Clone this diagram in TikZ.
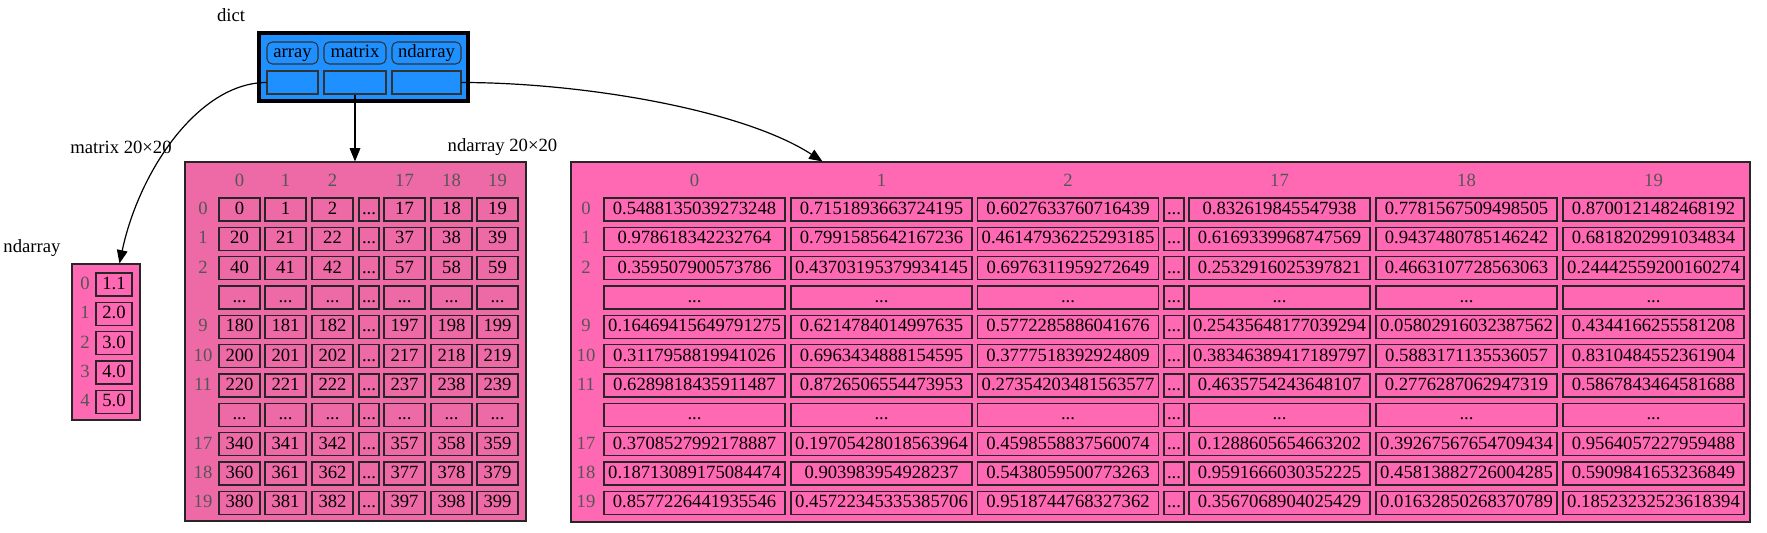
\documentclass[tikz,border=0pt]{standalone}
\usepackage{fontspec}
\setmainfont{Liberation Serif}
\usetikzlibrary{arrows.meta,calc}
\definecolor{dictblue}{HTML}{1E90FF}
\definecolor{matpink}{HTML}{EE6AA7}
\definecolor{arrpink}{HTML}{FF69B4}
\definecolor{idxgrey}{HTML}{555555}
\tikzset{
  fig/.style={font=\fontsize{14}{16}\selectfont},
  lbl/.style={inner sep=0pt},
  idx/.style={inner sep=0pt,text=idxgrey,text height=9.5pt,text depth=2pt},
  dictbox/.style={draw,line width=3pt,fill=dictblue,minimum width=156.75pt,
                  minimum height=51pt,inner sep=0pt},
  keybox/.style={draw=black!80,line width=0.8pt,fill=dictblue,rounded corners=4pt,
                 minimum height=16.5pt,inner sep=0pt,text height=6.5pt,text depth=0pt},
  valbox/.style={draw=black!80,line width=0.8pt,fill=dictblue,
                 minimum height=17.25pt,inner sep=0pt},
  panel/.style={draw=black!85,line width=0.8pt,inner sep=0pt},
  cellbox/.style={draw=black!85,line width=0.9pt,minimum height=17.25pt,inner sep=0pt,
                  text height=9.5pt,text depth=2pt},
  vcell/.style={cellbox,minimum width=27pt},
  mcell/.style={cellbox,minimum width=30.75pt},
  ncell/.style={cellbox,minimum width=135.75pt},
  dcell/.style={cellbox,minimum width=15pt},
  ln/.style={-{Triangle[length=10pt,width=8pt]},line width=0.9pt},
}

\begin{document}
\begin{tikzpicture}[fig,x=0.75pt,y=-0.75pt]
\useasboundingbox (0,0) rectangle (1767,532);

% dict
\node[lbl] (dictlbl) at (231,15) {dict};
\node[dictbox] (dict) at (363.5,67) {};
\node[keybox,minimum width=38.25pt] (arrk) at (292.5,53) {array};
\node[keybox,minimum width=46.5pt] (matk) at (355,53) {matrix};
\node[keybox,minimum width=51.75pt] (ndk) at (426.5,53) {ndarray};
\node[valbox,minimum width=38.25pt] (arrv) at (292.5,82.5) {};
\node[valbox,minimum width=46.5pt] (matv) at (355,82.5) {};
\node[valbox,minimum width=51.75pt] (ndv) at (426.5,82.5) {};

% ndarray (1-d)
\node[lbl] (veclbl) at (32,248) {ndarray};
\node[panel,fill=arrpink,minimum width=51pt,minimum height=117pt] (vec) at (106,342) {};
\foreach \i/\v in {0/1.1,1/2.0,2/3.0,3/4.0,4/5.0}{
  \node[idx] (vec-i\i) at (85,284.5+29.33*\i) {\i};
  \node[vcell] (vec-\i) at (114,284.5+29.33*\i) {\v};
}

% matrix 20x20
\node[lbl] (matlbl) at (121,147) {matrix 20×20};
\node[panel,fill=matpink,minimum width=255.75pt,minimum height=269.25pt] (mat) at (355.5,341.5) {};
\foreach \k/\x in {0/239.5,1/285.5,2/332.5,17/404.5,18/451.5,19/497.5}
  \node[idx] (mat-h\k) at (\x,181) {\k};
\foreach \r/\ri in {0/0,1/1,2/2,9/4,10/5,11/6,17/8,18/9,19/10}{
  \node[idx] (mat-i\r) at (203,209.5+29.33*\ri) {\r};
  \foreach \k/\x in {0/239.5,1/285.5,2/332.5,17/404.5,18/451.5,19/497.5}{
    \pgfmathtruncatemacro\v{20*\r+\k}
    \node[mcell] (mat-\r-\k) at (\x,209.5+29.33*\ri) {\v};
  }
  \node[dcell] (mat-\r-d) at (369,209.5+29.33*\ri) {...};
}
\foreach \ri in {3,7}{
  \foreach \k/\x in {0/239.5,1/285.5,2/332.5,17/404.5,18/451.5,19/497.5}
    \node[mcell] (mat-s\ri-\k) at (\x,209.5+29.33*\ri) {...};
  \node[dcell] (mat-s\ri-d) at (369,209.5+29.33*\ri) {...};
}

% ndarray 20x20
\node[lbl] (ndlbl) at (502.5,147) {ndarray 20×20};
\node[panel,fill=arrpink,minimum width=884.25pt,minimum height=270pt] (nd) at (1160.5,342) {};
\foreach \k/\x in {0/694.5,1/881.5,2/1068,17/1279.5,18/1466.5,19/1653.5}
  \node[idx] (nd-h\k) at (\x,181) {\k};
\foreach \r/\ri/\va/\vb/\vc/\vd/\ve/\vf in {
  0/0/0.5488135039273248/0.7151893663724195/0.6027633760716439/0.832619845547938/0.7781567509498505/0.8700121482468192,
  1/1/0.978618342232764/0.7991585642167236/0.46147936225293185/0.6169339968747569/0.9437480785146242/0.6818202991034834,
  2/2/0.359507900573786/0.43703195379934145/0.6976311959272649/0.2532916025397821/0.4663107728563063/0.24442559200160274,
  9/4/0.16469415649791275/0.6214784014997635/0.5772285886041676/0.25435648177039294/0.05802916032387562/0.4344166255581208,
  10/5/0.3117958819941026/0.6963434888154595/0.3777518392924809/0.38346389417189797/0.5883171135536057/0.8310484552361904,
  11/6/0.6289818435911487/0.8726506554473953/0.27354203481563577/0.4635754243648107/0.2776287062947319/0.5867843464581688,
  17/8/0.3708527992178887/0.19705428018563964/0.4598558837560074/0.1288605654663202/0.39267567654709434/0.9564057227959488,
  18/9/0.18713089175084474/0.903983954928237/0.5438059500773263/0.9591666030352225/0.45813882726004285/0.5909841653236849,
  19/10/0.8577226441935546/0.45722345335385706/0.9518744768327362/0.3567068904025429/0.01632850268370789/0.18523232523618394}{
  \node[idx] (nd-i\r) at (586,209.5+29.33*\ri) {\r};
  \foreach \k/\x/\v in {0/694.5/\va,1/881.5/\vb,2/1068/\vc,17/1279.5/\vd,18/1466.5/\ve,19/1653.5/\vf}
    \node[ncell] (nd-\r-\k) at (\x,209.5+29.33*\ri) {\v};
  \node[dcell] (nd-\r-d) at (1174,209.5+29.33*\ri) {...};
}
\foreach \ri in {3,7}{
  \foreach \k/\x in {0/694.5,1/881.5,2/1068,17/1279.5,18/1466.5,19/1653.5}
    \node[ncell] (nd-s\ri-\k) at (\x,209.5+29.33*\ri) {...};
  \node[dcell] (nd-s\ri-d) at (1174,209.5+29.33*\ri) {...};
}

% edges
\draw[ln] (arrv.west) .. controls +(-67,0) and +(20,-94) .. ($(vec.north west)+(48,0)$);
\draw[ln] (matv.south) -- (matv.south |- mat.north);
\draw[ln] (ndv.east) .. controls +(120,0) and +(-80,-52) .. ($(nd.north west)+(252,0)$);

\end{tikzpicture}
\end{document}
